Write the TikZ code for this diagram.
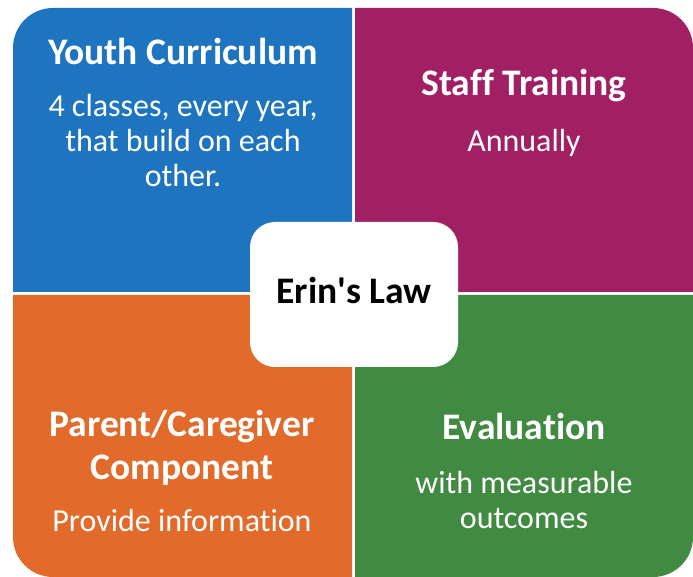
\documentclass[tikz,border=0pt]{standalone}
\usepackage{fontspec}
\setmainfont[Ligatures=NoCommon]{Carlito}
\usepackage{tikz}
\definecolor{youthblue}{RGB}{30,116,190}
\definecolor{staffpurple}{RGB}{161,31,99}
\definecolor{parentorange}{RGB}{226,107,44}
\definecolor{evalgreen}{RGB}{65,138,65}

\begin{document}
\begin{tikzpicture}[x=1pt, y=1pt,
  title/.style={text=white, anchor=base, align=center, font=\fontsize{37.5}{43}\bfseries\selectfont},
  body/.style={text=white, anchor=base, align=center, font=\fontsize{32}{35.3}\selectfont},
  lawbox/.style={fill=white, rounded corners=25pt, minimum width=208pt, minimum height=145pt, inner sep=0pt}]
\useasboundingbox (0,0) rectangle (693,577);

%the four quadrants
\fill [youthblue] (352,285) -- (13,285) -- (13,529) arc [start angle=180, end angle=90, radius=40] -- (352,569) -- cycle;
\fill [staffpurple] (355,285) -- (355,569) -- (653,569) arc [start angle=90, end angle=0, radius=40] -- (693,285) -- cycle;
\fill [parentorange] (352,282) -- (352,0) -- (53,0) arc [start angle=270, end angle=180, radius=40] -- (13,282) -- cycle;
\fill [evalgreen] (355,282) -- (693,282) -- (693,40) arc [start angle=0, end angle=-90, radius=40] -- (355,0) -- cycle;

%the texts (anchor is the last line's baseline)
\node [title] (youth) at (183,512) {Youth Curriculum};
\node [body] (youthtxt) at (183,390) {4 classes, every year,\\that build on each\\other.};

\node [title] (staff) at (524,481) {Staff Training};
\node [body] (stafftxt) at (524,425) {Annually};

\node [title] (parent) at (182,97) {Parent/Caregiver\\Component};
\node [body] (parenttxt) at (182,45) {Provide information};

\node [title] (eval) at (524,137) {Evaluation};
\node [body] (evaltxt) at (524,48) {with measurable\\outcomes};

%the centre
\node [lawbox] (law) at (354,282.5) {};
\node [anchor=base, font=\fontsize{37.5}{43}\bfseries\selectfont] (lawtxt) at (354,273) {Erin\textquotesingle s Law};
\end{tikzpicture}
\end{document}
